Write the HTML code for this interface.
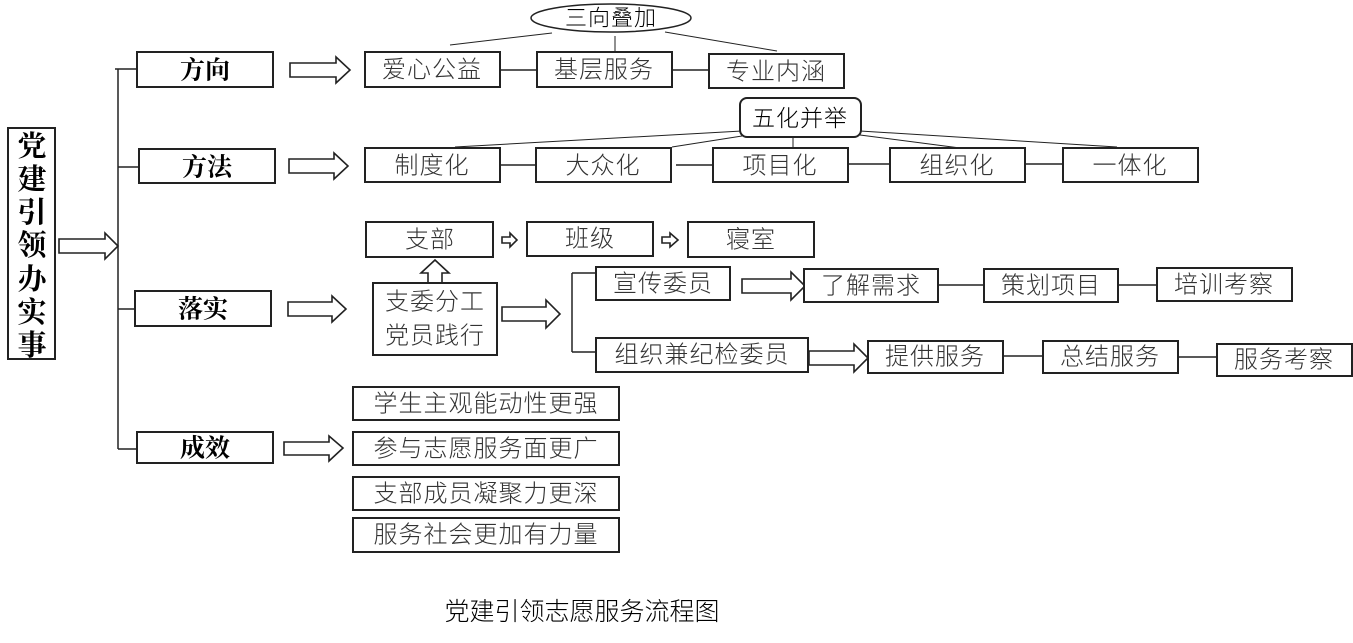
<!DOCTYPE html>
<html><head><meta charset="utf-8"><style>
body{margin:0;background:#fff;width:1353px;height:643px;overflow:hidden}
svg{display:block}
text{font-family:"Liberation Sans","Noto Sans CJK SC",sans-serif;font-size:24px;letter-spacing:1px;fill:#333;text-anchor:middle;dominant-baseline:central;font-weight:300}
.b{font-family:"Liberation Serif","Noto Serif CJK SC",serif;font-weight:bold;font-size:25px;fill:#000;letter-spacing:0}
.v{font-size:29px}
rect{fill:#fff;stroke:#222;stroke-width:2}
line{stroke:#222;stroke-width:1.5}
.t{stroke-width:1}
polygon{fill:#fff;stroke:#222;stroke-width:1.6}
</style></head><body>
<svg width="1353" height="643" viewBox="0 0 1353 643">
<rect x="8" y="128" width="47" height="231"/>
<text class="b v" x="32" y="147">党</text>
<text class="b v" x="32" y="180">建</text>
<text class="b v" x="32" y="213">引</text>
<text class="b v" x="32" y="246">领</text>
<text class="b v" x="32" y="280">办</text>
<text class="b v" x="32" y="313">实</text>
<text class="b v" x="32" y="346">事</text>
<polygon points="59,239 105,239 105,233 118,246 105,259 105,253 59,253"/>
<line x1="118" y1="69" x2="118" y2="449"/>
<line x1="115" y1="69" x2="137" y2="69"/>
<line x1="118" y1="167" x2="139" y2="167"/>
<line x1="118" y1="309" x2="135" y2="309"/>
<line x1="118" y1="449" x2="137" y2="449"/>
<rect x="137" y="52" width="136" height="35"/><text class="b" x="205" y="71">方向</text>
<rect x="139" y="149" width="136" height="34"/><text class="b" x="207" y="168">方法</text>
<rect x="135" y="291" width="136" height="35"/><text class="b" x="203" y="310">落实</text>
<rect x="137" y="432" width="136" height="31"/><text class="b" x="205" y="449">成效</text>
<polygon points="290,63 336,63 336,57 350,70 336,83 336,77 290,77"/>
<polygon points="289,159 334,159 334,153 348,166 334,179 334,173 289,173"/>
<polygon points="288,302 332,302 332,296 346,309 332,322 332,316 288,316"/>
<polygon points="284,442 329,442 329,436 343,448 329,461 329,455 284,455"/>
<ellipse cx="611" cy="18" rx="80" ry="14" fill="#fff" stroke="#222" stroke-width="1.5"/>
<text x="611" y="18" style="font-size:22px;fill:#000">三向叠加</text>
<line class="t" x1="552" y1="33" x2="450" y2="45"/>
<line class="t" x1="615" y1="36" x2="615" y2="52"/>
<line class="t" x1="665" y1="32" x2="777" y2="51"/>
<line x1="500" y1="70" x2="537" y2="70"/><line x1="672" y1="70" x2="709" y2="70"/>
<rect x="365" y="52" width="135" height="35"/><text x="432" y="70">爱心公益</text>
<rect x="537" y="52" width="135" height="35"/><text x="604" y="70">基层服务</text>
<rect x="709" y="54" width="135" height="34"/><text x="776" y="72">专业内涵</text>
<line class="t" x1="742" y1="131" x2="455" y2="147"/>
<line class="t" x1="742" y1="136" x2="672" y2="147"/>
<line class="t" x1="793" y1="137" x2="793" y2="148"/>
<line class="t" x1="860" y1="131" x2="1117" y2="147"/>
<line class="t" x1="860" y1="135" x2="960" y2="148"/>
<rect x="740" y="98" width="121" height="39" rx="7"/><text x="800" y="118" style="fill:#000;font-size:23px">五化并举</text>
<line x1="500" y1="165" x2="536" y2="165"/><line x1="676" y1="165" x2="713" y2="165"/>
<line x1="848" y1="164" x2="890" y2="164"/><line x1="1025" y1="164" x2="1063" y2="164"/>
<rect x="365" y="148" width="135" height="34"/><text x="432" y="166">制度化</text>
<rect x="536" y="148" width="135" height="34"/><text x="603" y="166">大众化</text>
<rect x="713" y="148" width="135" height="34"/><text x="780" y="166">项目化</text>
<rect x="890" y="148" width="135" height="34"/><text x="957" y="166">组织化</text>
<rect x="1063" y="148" width="135" height="34"/><text x="1130" y="166">一体化</text>
<rect x="366" y="222" width="127" height="35"/><text x="430" y="240">支部</text>
<rect x="527" y="222" width="126" height="34"/><text x="590" y="239">班级</text>
<rect x="688" y="222" width="126" height="35"/><text x="751" y="240">寝室</text>
<polygon points="502,237 510,237 510,233 517,240 510,247 510,243 502,243"/>
<polygon points="662,237 670,237 670,233 678,240 670,247 670,243 662,243"/>
<polygon points="428,283 428,273 421,273 435,260 449,273 442,273 442,283"/>
<rect x="373" y="283" width="124" height="72"/><text x="435" y="302">支委分工</text><text x="435" y="336">党员践行</text>
<polygon points="502,307 546,307 546,300 560,314 546,328 546,321 502,321"/>
<line x1="572" y1="273" x2="572" y2="352"/>
<line x1="572" y1="273" x2="596" y2="273"/><line x1="572" y1="352" x2="596" y2="352"/>
<rect x="596" y="267" width="134" height="33"/><text x="663" y="284">宣传委员</text>
<rect x="596" y="338" width="212" height="34"/><text x="702" y="355">组织兼纪检委员</text>
<polygon points="742,279 791,279 791,272 805,286 791,300 791,293 742,293"/>
<polygon points="809,351 854,351 854,344 868,358 854,372 854,365 809,365"/>
<line x1="938" y1="285" x2="984" y2="285"/><line x1="1118" y1="285" x2="1157" y2="285"/>
<rect x="804" y="269" width="134" height="33"/><text x="871" y="286">了解需求</text>
<rect x="984" y="269" width="134" height="33"/><text x="1051" y="286">策划项目</text>
<rect x="1157" y="268" width="135" height="33"/><text x="1224" y="285">培训考察</text>
<line x1="1003" y1="356" x2="1043" y2="356"/><line x1="1178" y1="357" x2="1217" y2="357"/>
<rect x="868" y="341" width="135" height="32"/><text x="935" y="357">提供服务</text>
<rect x="1043" y="341" width="135" height="32"/><text x="1110" y="357">总结服务</text>
<rect x="1217" y="344" width="135" height="32"/><text x="1284" y="360">服务考察</text>
<rect x="353" y="387" width="266" height="33"/><text x="486" y="404">学生主观能动性更强</text>
<rect x="353" y="432" width="266" height="33"/><text x="486" y="449">参与志愿服务面更广</text>
<rect x="353" y="477" width="266" height="33"/><text x="486" y="494">支部成员凝聚力更深</text>
<rect x="353" y="518" width="266" height="34"/><text x="486" y="535">服务社会更加有力量</text>
<text x="582" y="612" style="font-size:25px;fill:#000;letter-spacing:0">党建引领志愿服务流程图</text>
</svg>
</body></html>
